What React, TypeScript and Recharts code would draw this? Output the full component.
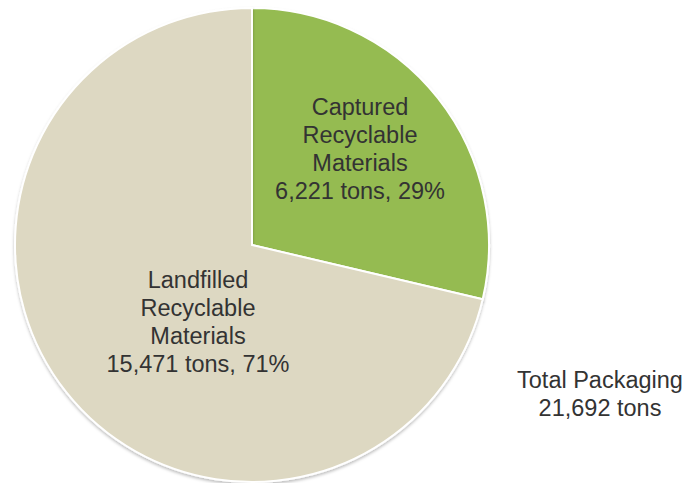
import { PieChart, Pie, Cell } from 'recharts';

const NAMES = ['Captured Recyclable Materials', 'Landfilled Recyclable Materials'];
const LABEL_LINES = [
  ['Captured', 'Recyclable', 'Materials'],
  ['Landfilled', 'Recyclable', 'Materials'],
];
const TONS = [6221, 15471];
const PERCENTS = [29, 71];
const TOTAL_LINES = ['Total Packaging', '21,692 tons'];

const COLORS = ['#95bb51', '#ddd8c2'];
// label centre offsets from the pie centre
const LABEL_OFFSETS = [
  { dx: 108, dy: -96 },
  { dx: -54, dy: 77 },
];

const data = NAMES.map((name, i) => ({ name, value: TONS[i], pct: PERCENTS[i] }));

const FONT = '"Liberation Sans", Arial, sans-serif';
const TEXT_COLOR = '#333333';

const renderLabel = (props: any) => {
  const { cx, cy, index } = props;
  const off = LABEL_OFFSETS[index];
  const lines = [
    ...LABEL_LINES[index],
    `${TONS[index].toLocaleString('en-US')} tons, ${PERCENTS[index]}%`,
  ];
  const lineH = 28;
  const top = cy + off.dy - ((lines.length - 1) * lineH) / 2;
  return (
    <text
      key={`lbl-${index}`}
      x={cx + off.dx}
      y={top}
      textAnchor="middle"
      dominantBaseline="central"
      fill={TEXT_COLOR}
      fontSize={23.5}
      fontFamily={FONT}
    >
      {lines.map((l, i) => (
        <tspan key={i} x={cx + off.dx} y={top + i * lineH}>
          {l}
        </tspan>
      ))}
    </text>
  );
};

export default function App() {
  return (
    <div style={{ position: 'absolute', left: 0, top: 0, width: 686, height: 483, background: '#fff' }}>
      <PieChart width={686} height={483} margin={{ top: 0, right: 0, bottom: 0, left: 0 }}>
        <defs>
          <filter id="pieShadow" x="-10%" y="-10%" width="120%" height="120%">
            <feDropShadow dx="0" dy="2" stdDeviation="1.5" floodColor="#000" floodOpacity="0.25" />
          </filter>
        </defs>
        <Pie
          data={data}
          dataKey="value"
          nameKey="name"
          cx={252}
          cy={245}
          outerRadius={237}
          startAngle={90}
          endAngle={-270}
          stroke="#ffffff"
          strokeWidth={2}
          label={renderLabel}
          labelLine={false}
          isAnimationActive={false}
          style={{ filter: 'url(#pieShadow)' }}
        >
          {data.map((d, i) => (
            <Cell key={d.name} fill={COLORS[i]} />
          ))}
        </Pie>
      </PieChart>
      <div
        style={{
          position: 'absolute',
          left: 505,
          top: 366,
          width: 190,
          textAlign: 'center',
          fontFamily: FONT,
          fontSize: 23.5,
          lineHeight: '28px',
          color: TEXT_COLOR,
        }}
      >
        {TOTAL_LINES.map((t) => (
          <div key={t}>{t}</div>
        ))}
      </div>
    </div>
  );
}
